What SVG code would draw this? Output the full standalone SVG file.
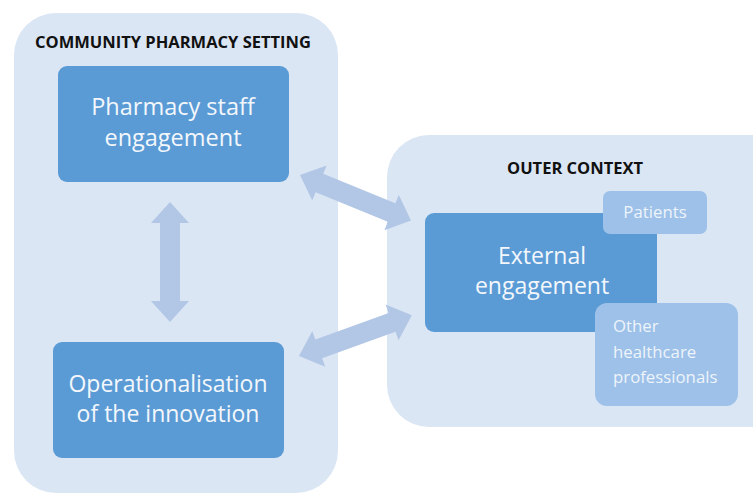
<svg xmlns="http://www.w3.org/2000/svg" width="753" height="493" viewBox="0 0 753 493">
<defs>
<style>
.pale{fill:#dbe6f4}
.dark{fill:#5b9bd5}
.light{fill:#9dc1e8}
.arrow{fill:#b2c7e6}
.title{font-family:"Open Sans","Liberation Sans",sans-serif;font-weight:bold;font-size:16.5px;fill:#111}
.big{font-family:"Open Sans","Liberation Sans",sans-serif;font-size:23px;fill:#f3f7fc;text-anchor:middle}
.small{font-family:"Open Sans","Liberation Sans",sans-serif;font-size:16.8px;fill:#eef4fb}
</style>
<polygon id="dbl" points="0,0 21,-19 21,-10 99,-10 99,-19 120,0 99,19 99,10 21,10 21,19"/>
</defs>
<rect width="753" height="493" fill="#ffffff"/>
<g id="community-pharmacy-setting">
<rect class="pale" x="14" y="13" width="324" height="480" rx="42"/>
<text class="title" x="173" y="48" text-anchor="middle">COMMUNITY PHARMACY SETTING</text>
</g>
<g id="outer-context">
<rect class="pale" x="387" y="135" width="420" height="292" rx="42"/>
<text class="title" x="575" y="174" text-anchor="middle">OUTER CONTEXT</text>
</g>
<g id="connectors">
<use href="#dbl" class="arrow" transform="translate(170,202) rotate(90)"/>
<use href="#dbl" class="arrow" transform="translate(300,175) rotate(22.3)"/>
<use href="#dbl" class="arrow" transform="translate(299,356) rotate(-19.9)"/>
</g>
<g id="pharmacy-staff-engagement">
<rect class="dark" x="58" y="66" width="231" height="116" rx="9"/>
<text class="big" x="173" y="115" style="font-size:23.5px">Pharmacy staff</text>
<text class="big" x="173" y="146" style="font-size:23.5px">engagement</text>
</g>
<g id="operationalisation">
<rect class="dark" x="53" y="342" width="231" height="116" rx="9"/>
<text class="big" x="168" y="392">Operationalisation</text>
<text class="big" x="168" y="422">of the innovation</text>
</g>
<g id="external-engagement">
<rect class="dark" x="425" y="213" width="232" height="119" rx="9"/>
<text class="big" x="542" y="264">External</text>
<text class="big" x="542" y="294">engagement</text>
</g>
<g id="patients">
<rect class="light" x="603" y="191" width="104" height="43" rx="7"/>
<text class="small" x="655" y="218" text-anchor="middle">Patients</text>
</g>
<g id="other-healthcare-professionals">
<rect class="light" x="595" y="303" width="143" height="103" rx="12"/>
<text class="small" x="613" y="332">Other</text>
<text class="small" x="613" y="358">healthcare</text>
<text class="small" x="613" y="383">professionals</text>
</g>
</svg>
